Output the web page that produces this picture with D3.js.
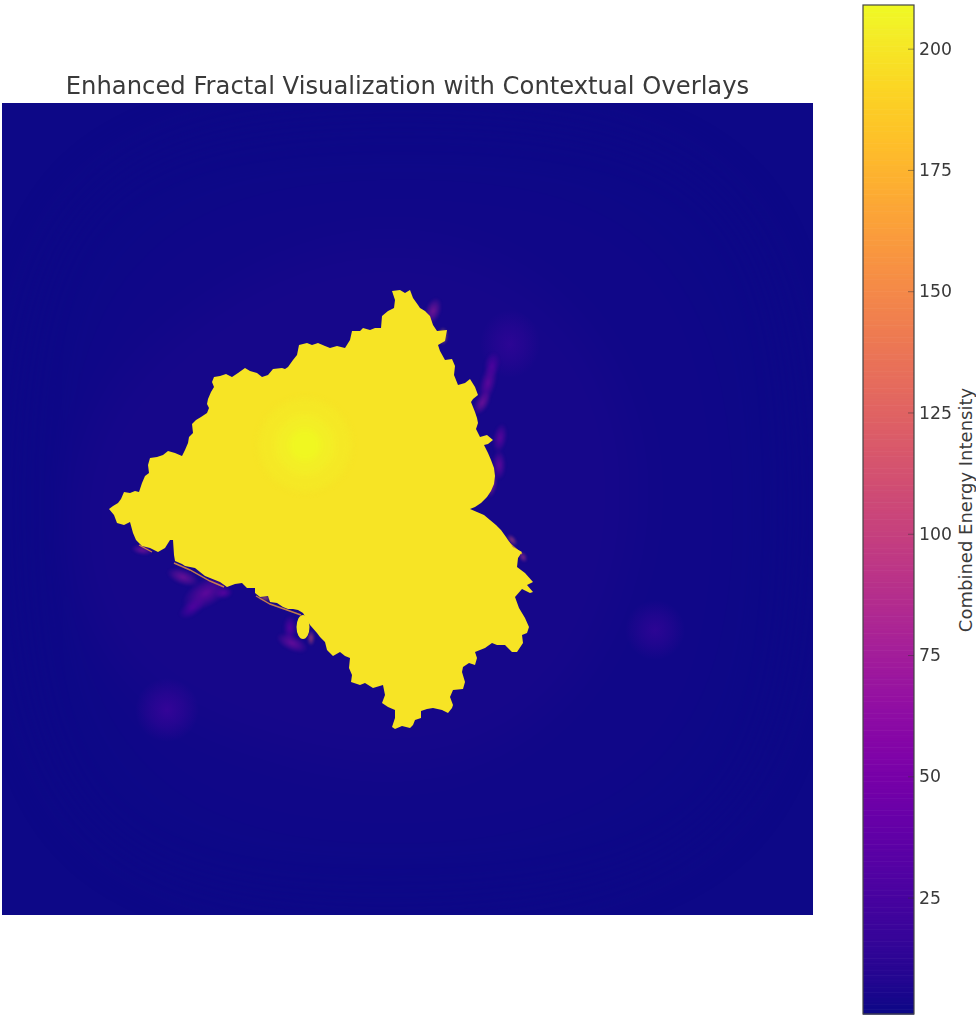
<!DOCTYPE html>
<html><head><meta charset="utf-8">
<script src="https://cdn.jsdelivr.net/npm/d3@7"></script>
<style>html,body{margin:0;padding:0;background:#fff}svg{display:block}text{font-family:"DejaVu Sans",sans-serif;fill:#3a3a3a}</style>
</head><body><svg id="c" width="976" height="1015"></svg>
<script>
const titleText = "Enhanced Fractal Visualization with Contextual Overlays";
const barLabel = "Combined Energy Intensity";
const colorTicks = [25,50,75,100,125,150,175,200];
const valueDomain = [1,209];
const backgroundValue = 1;
const fractalValue = 199;
// fractal boundary, in image grid cells (column,row)
const outline = [[107,406],[111,403],[116,400],[119,396],[122,389],[128,390],[133,388],[137,389],[140,380],[143,373],[147,370],[146,362],[148,355],[155,354],[161,352],[166,348],[173,350],[180,353],[183,347],[186,340],[187,334],[191,330],[190,321],[194,317],[199,314],[205,310],[207,305],[205,301],[206,296],[209,289],[212,284],[210,279],[212,274],[218,273],[224,271],[230,274],[236,270],[243,265],[248,268],[255,270],[260,274],[266,272],[271,266],[280,265],[283,266],[286,264],[291,257],[295,252],[297,242],[305,240],[310,242],[316,240],[323,243],[328,245],[335,243],[343,245],[348,237],[350,228],[358,228],[361,225],[368,227],[373,225],[379,225],[380,213],[386,208],[392,205],[393,197],[390,188],[398,187],[403,190],[408,187],[411,195],[416,202],[418,205],[423,208],[428,213],[431,222],[435,228],[445,227],[443,238],[436,242],[438,248],[443,257],[450,256],[453,263],[452,272],[456,282],[463,280],[468,276],[473,284],[476,292],[471,296],[469,299],[471,304],[473,309],[475,315],[476,320],[474,326],[478,334],[485,332],[491,337],[486,341],[482,342],[486,350],[489,357],[492,365],[493,373],[492,381],[489,388],[485,394],[479,400],[473,404],[468,406],[475,409],[482,412],[488,417],[494,422],[499,427],[504,434],[506,437],[511,444],[520,449],[516,455],[515,464],[523,470],[531,479],[525,482],[531,489],[528,490],[520,486],[513,494],[517,505],[523,515],[527,524],[525,530],[520,532],[521,540],[515,549],[510,549],[503,542],[495,542],[490,540],[483,545],[473,549],[475,555],[473,562],[467,560],[461,564],[460,569],[463,579],[461,586],[451,587],[448,594],[451,602],[450,605],[446,610],[440,607],[431,605],[425,606],[419,608],[419,615],[413,617],[411,622],[408,625],[400,623],[393,626],[390,624],[393,615],[393,607],[386,604],[380,600],[383,592],[381,582],[371,585],[363,580],[358,582],[349,579],[350,572],[347,565],[348,555],[343,553],[338,549],[331,553],[325,547],[323,539],[318,534],[315,530],[308,522],[301,510],[296,507],[291,506],[286,506],[281,504],[275,500],[268,499],[266,493],[258,494],[253,490],[253,485],[245,485],[240,480],[233,481],[225,484],[218,479],[208,475],[203,473],[198,469],[193,465],[188,464],[183,463],[180,461],[173,458],[172,452],[171,437],[168,437],[163,445],[156,449],[148,445],[140,443],[134,437],[131,430],[128,419],[122,422],[115,420],[112,412]];
// small detached bulb: column,row,half-width,half-height
const bulb = [301,524,6.5,12];
// bright core inside the fractal: radius and value, outermost first
const coreCentre = [303,342];
const coreRadii = [46,30,16];
const coreValues = [201,204,209];
// soft energy patches: column,row,radius-x,radius-y,angle,value
const glows = [[508,241,30,34,0,14],[653,527,30,30,0,15],[165,607,32,32,0,19]];
const wisps = [[431,208,8,14,20,75],[441,233,5,9,0,165],[486,280,8,21,15,58],[480,300,7,13,30,70],[490,262,8,13,10,40],[498,335,7,15,10,55],[497,362,7,15,0,60],[490,382,5,13,10,80],[510,437,4,7,-40,110],[521,454,4,6,-30,95],[204,490,26,14,-30,60],[181,474,17,8,20,70],[190,505,15,8,-35,42],[222,490,9,6,-10,50],[290,540,17,8,25,65],[309,535,4,8,0,115],[288,525,7,13,0,50],[140,447,11,5,10,70],[263,495,7,3,5,140]];
const fringe = [[[172,460],[188,467],[208,478],[222,484]],[[254,493],[268,501],[285,507],[299,512]],[[137,442],[150,449]],[[506,439],[520,451]]];
// iso-level outlines of the faint background halo: value, then closed ring
const haloLevels = [1.6,2.6,4];
const haloRings = [
 [[400,10],[660,30],[780,150],[800,400],[780,660],[650,780],[400,805],[150,785],[30,660],[10,400],[30,150],[150,30]],
 [[400,70],[600,90],[710,200],[740,400],[715,610],[595,720],[400,750],[200,725],[85,610],[55,400],[85,200],[205,90]],
 [[400,130],[540,170],[630,290],[640,450],[570,610],[420,680],[270,650],[120,590],[50,440],[90,300],[200,200],[300,150]]
];

const W=811,H=812;
const svg=d3.select("#c");
const x=d3.scaleLinear().domain([0,W]).range([2,813]);
const y=d3.scaleLinear().domain([0,H]).range([103,915]);
const color=v=>d3.interpolatePlasma((v-valueDomain[0])/(valueDomain[1]-valueDomain[0]));
const defs=svg.append("defs");
defs.append("clipPath").attr("id","clip").append("rect").attr("x",x(0)).attr("y",y(0)).attr("width",x(W)-x(0)).attr("height",y(H)-y(0));
[["b22",22],["b1",0.4],["b3",3],["bw",1.2]].forEach(([id,s])=>defs.append("filter").attr("id",id).attr("color-interpolation-filters","sRGB").attr("x","-30%").attr("y","-30%").attr("width","160%").attr("height","160%").append("feGaussianBlur").attr("stdDeviation",s));
const ptLine=d3.line().x(d=>x(d[0])).y(d=>y(d[1]));

const plot=svg.append("g").attr("clip-path","url(#clip)");
plot.append("rect").attr("x",x(0)).attr("y",y(0)).attr("width",x(W)-x(0)).attr("height",y(H)-y(0)).attr("fill",color(backgroundValue));
const halo=plot.append("g").attr("filter","url(#b22)");
const ring=d3.line().x(d=>x(d[0])).y(d=>y(d[1])).curve(d3.curveBasisClosed);
halo.selectAll("path").data(haloRings).join("path").attr("d",ring).attr("fill",(d,i)=>color(haloLevels[i]));

function softEllipse(parent,list,prefix,innerOp){
  list.forEach((g,i)=>{
    const id=prefix+i;
    const gr=defs.append("radialGradient").attr("id",id);
    gr.append("stop").attr("offset","0%").attr("stop-color",color(g[5])).attr("stop-opacity",innerOp);
    gr.append("stop").attr("offset","50%").attr("stop-color",color(g[5])).attr("stop-opacity",innerOp*0.55);
    gr.append("stop").attr("offset","100%").attr("stop-color",color(g[5])).attr("stop-opacity",0);
    parent.append("ellipse").attr("cx",0).attr("cy",0).attr("rx",g[2]).attr("ry",g[3])
      .attr("transform",`translate(${x(g[0])},${y(g[1])}) rotate(${g[4]})`).attr("fill",`url(#${id})`);
  });
}
softEllipse(plot.append("g"),glows,"glow",0.8);
softEllipse(plot.append("g").attr("filter","url(#bw)"),wisps,"wisp",0.62);
plot.append("g").attr("filter","url(#b1)").selectAll("path").data(fringe).join("path").attr("d",ptLine).attr("fill","none").attr("stroke",color(165)).attr("stroke-width",1.4).attr("stroke-opacity",.75);

const fr=plot.append("g").attr("filter","url(#b1)");
fr.append("path").attr("d",ptLine(outline)+"Z").attr("fill",color(fractalValue));
fr.append("ellipse").attr("cx",x(bulb[0])).attr("cy",y(bulb[1])).attr("rx",bulb[2]).attr("ry",bulb[3]).attr("fill",color(fractalValue));

const core=plot.append("g").attr("filter","url(#b3)");
core.selectAll("circle").data(coreRadii).join("circle").attr("cx",x(coreCentre[0])).attr("cy",y(coreCentre[1])).attr("r",d=>d).attr("fill",(d,i)=>color(coreValues[i])).attr("opacity",.85);

svg.append("text").attr("x",407.5).attr("y",94).attr("text-anchor","middle").attr("font-size",24.25).text(titleText);

// colour bar
const barX0=863,barX1=914,barTop=5,barBot=1014;
const cy=d3.scaleLinear().domain(valueDomain).range([barBot,barTop]);
const steps=d3.range(valueDomain[0],valueDomain[1],0.5);
svg.append("g").selectAll("rect").data(steps).join("rect").attr("x",barX0).attr("width",barX1-barX0).attr("y",d=>cy(d+0.5)).attr("height",d=>cy(d)-cy(d+0.5)+0.6).attr("fill",d=>color(d));
svg.append("rect").attr("x",barX0).attr("y",barTop).attr("width",barX1-barX0).attr("height",barBot-barTop).attr("fill","none").attr("stroke","#444").attr("stroke-width",1.2);
const ax=svg.append("g").attr("transform",`translate(${barX1},0)`).call(d3.axisRight(cy).tickValues(colorTicks).tickSizeInner(-6).tickSizeOuter(0).tickPadding(5));
ax.select(".domain").remove();
ax.selectAll("line").attr("stroke","#333").attr("stroke-opacity",.5);
ax.selectAll("text").attr("font-size",17.3).attr("font-family",'"DejaVu Sans",sans-serif').attr("fill","#3a3a3a");
svg.append("text").attr("transform","translate(972,510) rotate(-90)").attr("text-anchor","middle").attr("font-size",18).text(barLabel);
</script></body></html>
